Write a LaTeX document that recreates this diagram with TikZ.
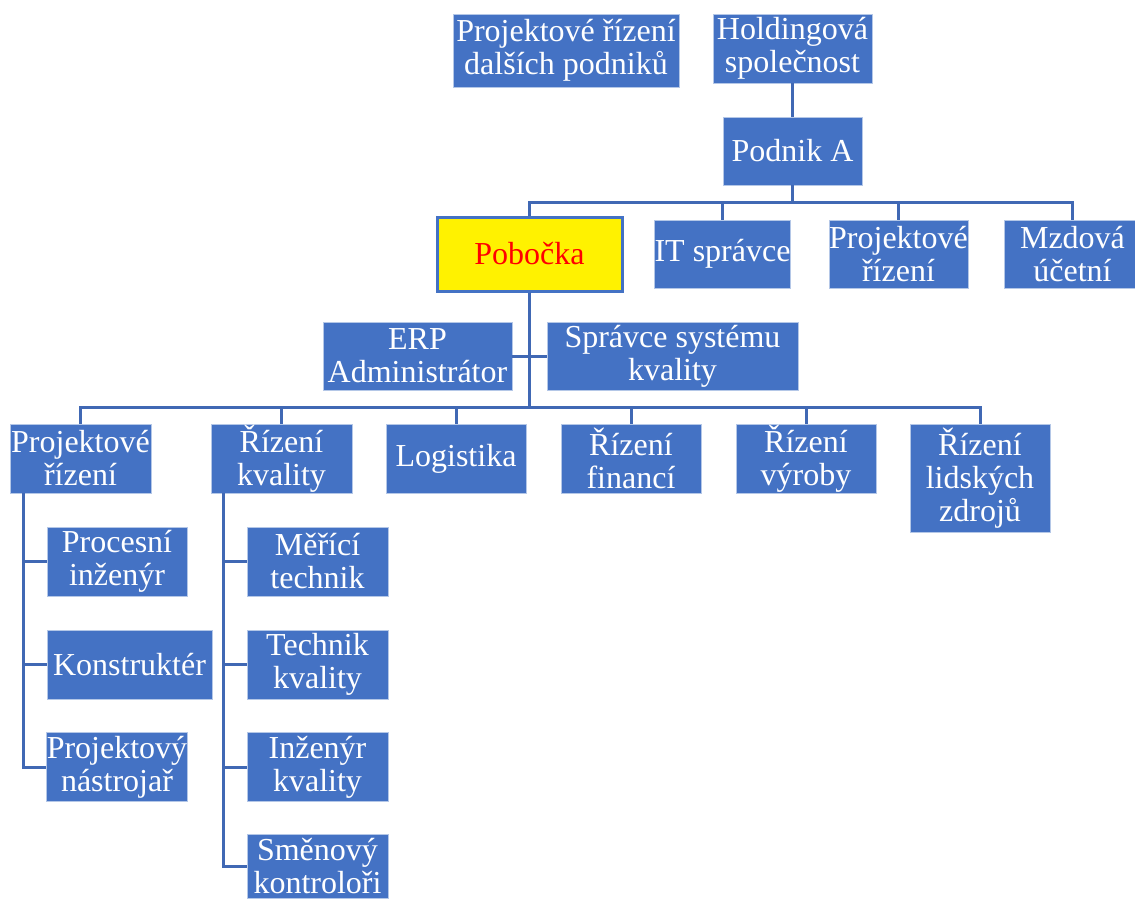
\documentclass[tikz,border=0pt]{standalone}
\usepackage{fontspec}
\setmainfont{Liberation Serif}
\definecolor{obl}{HTML}{4472C4}
\definecolor{edge}{HTML}{B4C7E7}
\definecolor{lin}{HTML}{4068B4}
\begin{document}
\begin{tikzpicture}[x=1pt,y=-1pt,
  box/.style={rectangle, fill=obl, draw=edge, line width=0.8pt, inner sep=0pt, align=center,
    text=white, font=\fontsize{32}{33}\selectfont},
  conn/.style={draw=lin, line width=3pt},
  ]
\useasboundingbox (0,0) rectangle (1135,898);
% top
\node[box, minimum width=226, minimum height=73] (other) at (566,50.5) {Projektové řízení\\dalších podniků};
\node[box, minimum width=159, minimum height=69] (hold) at (792.5,48.5) {Holdingová\\společnost};
\node[box, minimum width=139, minimum height=68] (podnik) at (792.5,151) {Podnik A};
% level 2
\node[box, fill=yellow, draw=obl, line width=3pt, text=red, minimum width=185, minimum height=74] (pob) at (529.5,254) {Pobočka};
\node[box, minimum width=135, minimum height=68] (it) at (722.5,254) {IT správce};
\node[box, minimum width=139, minimum height=68] (proj) at (898.5,254) {Projektové\\řízení};
\node[box, minimum width=137, minimum height=68] (mzd) at (1072.5,254) {Mzdová\\účetní};
% staff
\node[box, minimum width=189, minimum height=68] (erp) at (417.5,356) {ERP\\Administrátor};
\node[box, minimum width=251, minimum height=68] (spr) at (672.5,356) {Správce systému\\kvality};
% level 3
\node[box, minimum width=141, minimum height=69] (pr) at (80.5,458.5) {Projektové\\řízení};
\node[box, minimum width=141, minimum height=69] (rk) at (281.5,458.5) {Řízení\\kvality};
\node[box, minimum width=140, minimum height=69] (log) at (456,458.5) {Logistika};
\node[box, minimum width=140, minimum height=69] (fin) at (631,458.5) {Řízení\\financí};
\node[box, minimum width=140, minimum height=69] (vyr) at (806,458.5) {Řízení\\výroby};
\node[box, minimum width=140, minimum height=108] (lid) at (980,478) {Řízení\\lidských\\zdrojů};
% level 4 left
\node[box, minimum width=140, minimum height=69] (proc) at (117,561.5) {Procesní\\inženýr};
\node[box, minimum width=165, minimum height=69] (kon) at (129.5,664.5) {Konstruktér};
\node[box, minimum width=140, minimum height=69] (nas) at (117,767) {Projektový\\nástrojař};
% level 4 quality
\node[box, minimum width=141, minimum height=69] (mer) at (317.5,561.5) {Měřící\\technik};
\node[box, minimum width=141, minimum height=69] (tek) at (317.5,664.5) {Technik\\kvality};
\node[box, minimum width=141, minimum height=69] (inz) at (317.5,767) {Inženýr\\kvality};
\node[box, minimum width=141, minimum height=64] (smen) at (317.5,866.5) {Směnový\\kontroloři};
% connectors
\draw[conn] (hold.south) -- (podnik.north);
\foreach \c in {pob,it,proj,mzd}
  \draw[conn] (podnik.south) -- (podnik.south |- 0,202) -| (\c.north);
\draw[conn] (erp.east) -- (spr.west);
\foreach \c in {pr,rk,log,fin,vyr,lid}
  \draw[conn] (pob.south) -- (pob.south |- 0,407) -| (\c.north);
\foreach \c in {proc,kon,nas}
  \draw[conn] (pr.south -| 23,0) |- (\c.west);
\foreach \c in {mer,tek,inz,smen}
  \draw[conn] (rk.south -| 223,0) |- (\c.west);
\end{tikzpicture}
\end{document}
